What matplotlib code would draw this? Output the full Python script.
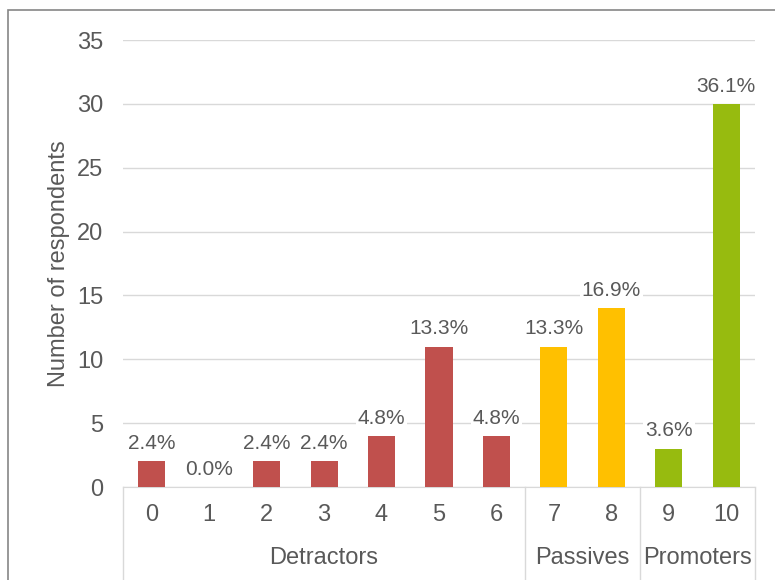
import matplotlib.pyplot as plt
from matplotlib.patches import Rectangle

plt.rcParams['font.family'] = ['Liberation Sans', 'DejaVu Sans']

scores = ['0', '1', '2', '3', '4', '5', '6', '7', '8', '9', '10']
counts = [2, 0, 2, 2, 4, 11, 4, 11, 14, 3, 30]
groups = ['Detractors', 'Passives', 'Promoters']
group_spans = [(0, 6), (7, 8), (9, 10)]
group_colors = ['#C0504D', '#FFC000', '#97BB0F']

total = sum(counts)
bar_colors = []
for (a, b), c in zip(group_spans, group_colors):
    bar_colors += [c] * (b - a + 1)

text_color = '#595959'
line_color = '#D9D9D9'

fig = plt.figure(figsize=(7.75, 5.8), dpi=100)
ax = fig.add_axes([0.1587, 0.1603, 0.8155, 0.7707])

x = list(range(len(scores)))
ax.bar(x, counts, width=0.47, color=bar_colors, zorder=3)

for xi, v in zip(x, counts):
    ax.annotate(f'{v / total * 100:.1f}%', (xi, v), xytext=(0, 6),
                textcoords='offset points', ha='center', va='bottom',
                fontsize=15, color=text_color, zorder=4,
                bbox=dict(boxstyle='square,pad=0.1', fc='white', ec='none'))

ax.set_xlim(-0.5, len(scores) - 0.5)
ax.set_ylim(0, 35)
ax.set_yticks(range(0, 36, 5))
ax.yaxis.grid(True, color=line_color, linewidth=1, zorder=0)
ax.set_axisbelow(True)
for s in ['top', 'right', 'left']:
    ax.spines[s].set_visible(False)
ax.spines['bottom'].set_color(line_color)
ax.tick_params(axis='y', length=0, labelsize=17, labelcolor=text_color, pad=14)
ax.set_xticks(x)
ax.set_xticklabels(scores)
ax.tick_params(axis='x', length=0, labelsize=17, labelcolor=text_color, pad=12)
ax.set_ylabel('Number of respondents', fontsize=17, color=text_color, labelpad=5)

# multi-level category axis: separators and group labels
trans = ax.get_xaxis_transform()
for xs in [-0.5, 6.5, 8.5, 10.5]:
    ax.plot([xs, xs], [0, -0.3], transform=trans, color=line_color,
            linewidth=1, clip_on=False)
for name, (a, b) in zip(groups, group_spans):
    ax.text((a + b) / 2, -0.159, name, transform=trans, ha='center', va='center',
            fontsize=17, color=text_color)

# outer chart border
fig.patches.append(Rectangle((8 / 775, -0.1), 1.2, 1 - 10 / 580 + 0.1,
                             transform=fig.transFigure, fill=False,
                             edgecolor='#868686', linewidth=1.2))

fig.savefig('out.png', dpi=100)
